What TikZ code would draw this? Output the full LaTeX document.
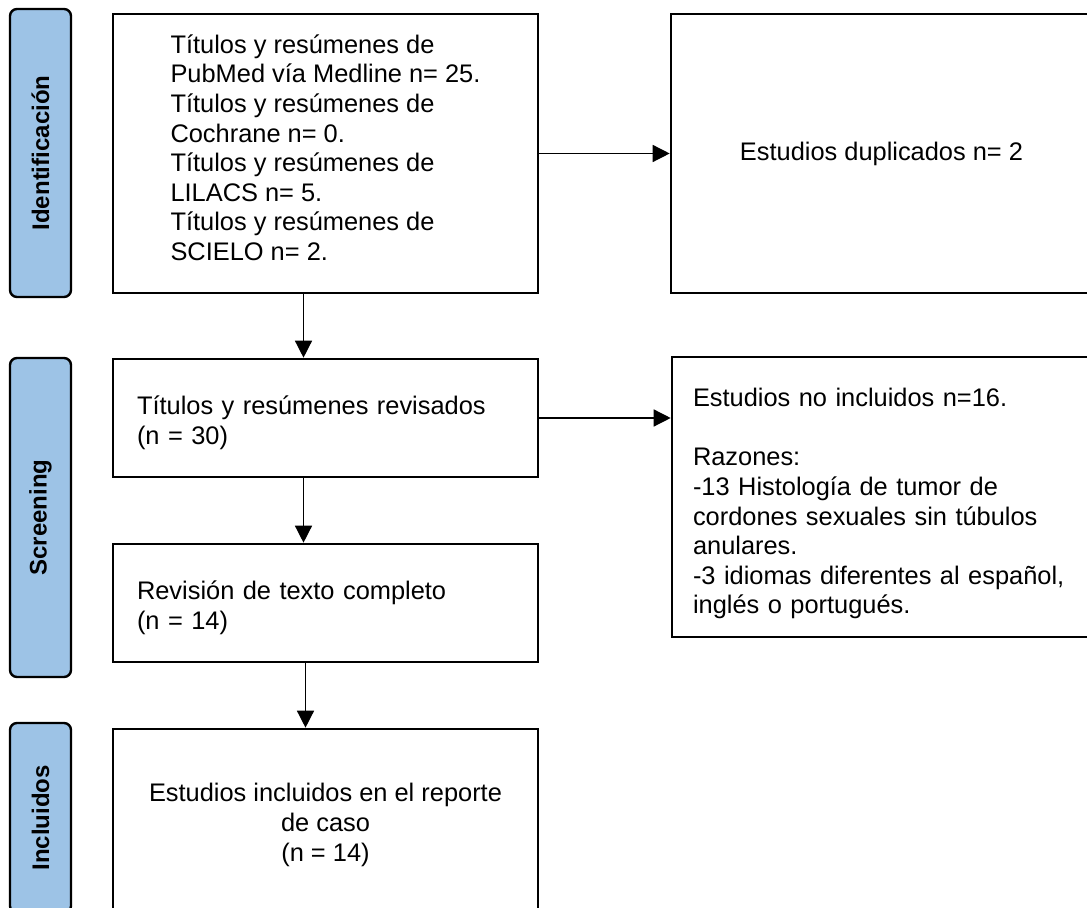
\documentclass[tikz,border=0pt]{standalone}
\usepackage{fontspec}
\setmainfont{Liberation Sans}
\usetikzlibrary{arrows.meta}
\definecolor{phaseblue}{RGB}{157,195,230}
\newcommand\phaselabel[4]{\node [phase, minimum width=#3] (#1) at #2 {#4};}

\begin{document}
\begin{tikzpicture}[x=0.5pt, y=-0.5pt,
    phase/.style={draw, fill=phaseblue, line width=1.2pt, rounded corners=3.5pt, rotate=90,
      minimum height=30.5pt, inner sep=0pt, font=\fontsize{12}{14}\selectfont\bfseries},
    box/.style={draw, line width=1.3pt, inner sep=0pt, font=\fontsize{12.7}{14.8}\selectfont},
    flow/.style={line width=0.7pt, -{Triangle[length=8.5pt, width=8.5pt]}}]
  \useasboundingbox (0, 0) rectangle (1087, 908);

  \phaselabel{ident}{(40.5, 153)}{144pt}{Identificación}
  \phaselabel{scr}{(40.5, 517.5)}{159.5pt}{Screening}
  \phaselabel{inc}{(40.5, 818)}{95pt}{Incluidos}

  \node [box, minimum width=212.5pt, minimum height=139.5pt, align=left] (search) at (325.5, 153.5)
    {Títulos y resúmenes de\\PubMed vía Medline n= 25.\\Títulos y resúmenes de\\Cochrane n= 0.\\
     Títulos y resúmenes de\\LILACS n= 5.\\Títulos y resúmenes de\\SCIELO n= 2.\rule[-6pt]{0pt}{0pt}};
  \node [box, minimum width=210.5pt, minimum height=139.5pt] (dup) at (881.5, 153.5)
    {Estudios duplicados n= 2};

  \node [box, text width=188.5pt, inner xsep=12pt, minimum height=59pt, align=left] (screen) at (325.5, 418)
    {\rule{0pt}{14pt}Títulos y resúmenes revisados\\(n = 30)};
  \node [box, text width=188.5pt, inner xsep=12pt, minimum height=59pt, align=left] (full) at (325.5, 603)
    {\rule{0pt}{14pt}Revisión de texto completo\\(n = 14)};
  \node [box, text width=189pt, inner xsep=10.5pt, minimum height=140pt, align=left] (excl) at (882, 497)
    {\rule{0pt}{16pt}Estudios no incluidos n=16.\\[14.8pt]Razones:\\-13 Histología de tumor de\\cordones sexuales sin túbulos\\
     anulares.\\-3 idiomas diferentes al español,\\inglés o portugués.};

  \node [box, minimum width=212.5pt, minimum height=96pt, align=center] (incl) at (325.5, 825)
    {Estudios incluidos en el reporte\\de caso\\(n = 14)};

  \draw [flow] (search) -- (dup);
  \draw [flow] ([xshift=-11pt]search.south) -- ([xshift=-11pt]screen.north);
  \draw [flow] (screen.east) -- (screen.east -| excl.west);
  \draw [flow] ([xshift=-11pt]screen.south) -- ([xshift=-11pt]full.north);
  \draw [flow] ([xshift=-10pt]full.south) -- ([xshift=-10pt]incl.north);
\end{tikzpicture}
\end{document}
